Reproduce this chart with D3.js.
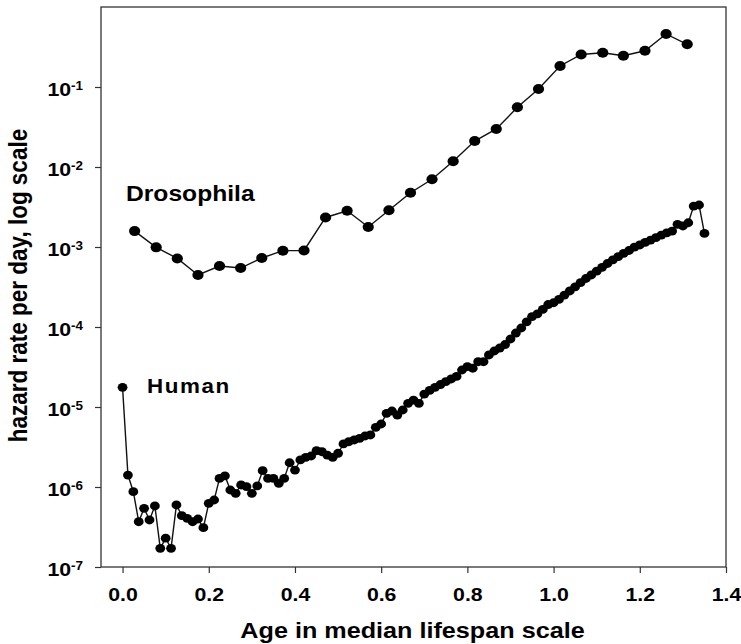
<!DOCTYPE html>
<html>
<head>
<meta charset="utf-8">
<script src="https://cdn.jsdelivr.net/npm/d3@7"></script>
<style>
  body { margin: 0; background: #fff; }
  svg text { font-family: "Liberation Sans", Arial, Helvetica, sans-serif; font-weight: bold; fill: #000; }
</style>
</head>
<body>
<svg id="chart" width="741" height="644"></svg>
<script>
// Drosophila, age in median lifespan units and hazard per day
const flyAge = [0.028, 0.078, 0.127, 0.175, 0.225, 0.274, 0.323, 0.372, 0.421, 0.471,
  0.521, 0.570, 0.618, 0.668, 0.718, 0.767, 0.817, 0.867, 0.916, 0.965,
  1.015, 1.064, 1.114, 1.162, 1.212, 1.261, 1.310];
const flyHazard = [1.58e-3, 9.9e-4, 7.2e-4, 4.47e-4, 5.79e-4, 5.46e-4, 7.29e-4, 9.0e-4, 9.04e-4, 2.34e-3,
  2.84e-3, 1.78e-3, 2.88e-3, 4.77e-3, 7.02e-3, 1.18e-2, 2.11e-2, 2.99e-2, 5.57e-2, 9.44e-2,
  0.183, 0.255, 0.268, 0.246, 0.284, 0.46, 0.342];

// Human, one point per year of age
const humanAge = [0, 0.0125, 0.025, 0.0375, 0.05, 0.0625, 0.075, 0.0875, 0.1, 0.1125,
  0.125, 0.1375, 0.15, 0.1625, 0.175, 0.1875, 0.2, 0.2125, 0.225, 0.2375,
  0.25, 0.2625, 0.275, 0.2875, 0.3, 0.3125, 0.325, 0.3375, 0.35, 0.3625,
  0.375, 0.3875, 0.4, 0.4125, 0.425, 0.4375, 0.45, 0.4625, 0.475, 0.4875,
  0.5, 0.5125, 0.525, 0.5375, 0.55, 0.5625, 0.575, 0.5875, 0.6, 0.6125,
  0.625, 0.6375, 0.65, 0.6625, 0.675, 0.6875, 0.7, 0.7125, 0.725, 0.7375,
  0.75, 0.7625, 0.775, 0.7875, 0.8, 0.8125, 0.825, 0.8375, 0.85, 0.8625,
  0.875, 0.8875, 0.9, 0.9125, 0.925, 0.9375, 0.95, 0.9625, 0.975, 0.9875,
  1, 1.0125, 1.025, 1.0375, 1.05, 1.0625, 1.075, 1.0875, 1.1, 1.1125,
  1.125, 1.1375, 1.15, 1.1625, 1.175, 1.1875, 1.2, 1.2125, 1.225, 1.2375,
  1.25, 1.2625, 1.275, 1.2875, 1.3, 1.3125, 1.325, 1.3375, 1.35];
const humanHazard = [1.76e-5, 1.41e-6, 8.73e-7, 3.68e-7, 5.42e-7, 3.87e-7, 5.79e-7, 1.71e-7, 2.29e-7, 1.71e-7,
  5.96e-7, 4.38e-7, 4.06e-7, 3.68e-7, 3.98e-7, 3.10e-7, 6.25e-7, 6.88e-7, 1.28e-6, 1.38e-6,
  9.17e-7, 8.34e-7, 1.06e-6, 1.01e-6, 8.34e-7, 1.03e-6, 1.60e-6, 1.28e-6, 1.28e-6, 1.11e-6,
  1.28e-6, 2.01e-6, 1.63e-6, 2.18e-6, 2.35e-6, 2.44e-6, 2.84e-6, 2.76e-6, 2.51e-6, 2.35e-6,
  2.64e-6, 3.45e-6, 3.68e-6, 3.87e-6, 4.06e-6, 4.34e-6, 4.47e-6, 5.57e-6, 6.13e-6, 8.34e-6,
  8.91e-6, 7.94e-6, 9.17e-6, 1.11e-5, 1.22e-5, 1.11e-5, 1.45e-5, 1.61e-5, 1.76e-5, 1.91e-5,
  2.07e-5, 2.24e-5, 2.41e-5, 2.90e-5, 3.19e-5, 3.05e-5, 3.68e-5, 3.68e-5, 4.47e-5, 5.01e-5,
  5.46e-5, 6.04e-5, 7.08e-5, 8.41e-5, 9.72e-5, 1.16e-4, 1.35e-4, 1.46e-4, 1.66e-4, 1.91e-4,
  2.01e-4, 2.21e-4, 2.51e-4, 2.82e-4, 3.18e-4, 3.58e-4, 4.04e-4, 4.47e-4, 4.98e-4, 5.57e-4,
  6.22e-4, 6.92e-4, 7.60e-4, 8.34e-4, 9.04e-4, 9.94e-4, 1.06e-3, 1.14e-3, 1.22e-3, 1.31e-3,
  1.41e-3, 1.50e-3, 1.58e-3, 1.92e-3, 1.83e-3, 2.01e-3, 3.25e-3, 3.35e-3, 1.48e-3];

const xTicks = [0, 0.2, 0.4, 0.6, 0.8, 1.0, 1.2, 1.4];
const yTicks = [1e-7, 1e-6, 1e-5, 1e-4, 1e-3, 1e-2, 1e-1];
const yTickExponents = ['-7', '-6', '-5', '-4', '-3', '-2', '-1'];

const svg = d3.select('#chart');
const plot = { left: 101, right: 726, top: 7, bottom: 567 };
// the original scan is a bit wide, so text gets stretched horizontally
const stretch = 'scale(1.12,1)';

const x = d3.scaleLinear().domain([-0.05, 1.4]).range([plot.left, plot.right]);
const y = d3.scaleLog().domain([1e-7, 1]).range([plot.bottom, plot.top]);

// x axis
const xAxis = svg.append('g')
  .attr('transform', `translate(0,${plot.bottom})`)
  .call(d3.axisBottom(x).tickValues(xTicks).tickSize(6).tickSizeOuter(0).tickFormat(d3.format('.1f')));
xAxis.select('.domain').remove();
xAxis.selectAll('.tick line').attr('stroke', '#333').attr('stroke-width', 1.2);
xAxis.selectAll('.tick text')
  .attr('y', 34).attr('dy', null)
  .attr('font-size', 19)
  .attr('transform', stretch);

// y axis, labels are drawn by hand as powers of ten
const yAxis = svg.append('g')
  .attr('transform', `translate(${plot.left},0)`)
  .call(d3.axisLeft(y).tickValues(yTicks).tickSize(6).tickSizeOuter(0).tickFormat(''));
yAxis.select('.domain').remove();
yAxis.selectAll('.tick line').attr('stroke', '#333').attr('stroke-width', 1.2);

const yLabels = svg.append('g').selectAll('text')
  .data(yTicks)
  .enter()
  .append('text')
  .attr('text-anchor', 'end')
  .attr('transform', d => `translate(83,${y(d) + 9}) ${stretch}`);
yLabels.append('tspan').attr('font-size', 19).text('10');
yLabels.append('tspan')
  .attr('font-size', 12)
  .attr('dy', -6)
  .text((d, i) => yTickExponents[i]);

// frame
svg.append('rect')
  .attr('x', plot.left)
  .attr('y', plot.top)
  .attr('width', plot.right - plot.left)
  .attr('height', plot.bottom - plot.top)
  .attr('fill', 'none')
  .attr('stroke', '#333')
  .attr('stroke-width', 1.3);

const line = d3.line()
  .x(d => x(d[0]))
  .y(d => y(d[1]));

function drawSeries(ages, hazards, rx, ry) {
  const pts = d3.zip(ages, hazards);
  const g = svg.append('g');
  g.append('path')
    .datum(pts)
    .attr('d', line)
    .attr('fill', 'none')
    .attr('stroke', '#111')
    .attr('stroke-width', 1.4);
  g.selectAll('ellipse')
    .data(pts)
    .enter()
    .append('ellipse')
    .attr('cx', d => x(d[0]))
    .attr('cy', d => y(d[1]))
    .attr('rx', rx)
    .attr('ry', ry)
    .attr('fill', '#000');
}

drawSeries(flyAge, flyHazard, 5.6, 5.0);
drawSeries(humanAge, humanHazard, 4.9, 4.4);

// series names
svg.append('text')
  .attr('transform', `translate(126,201) ${stretch}`)
  .attr('font-size', 22)
  .text('Drosophila');
svg.append('text')
  .attr('transform', `translate(147,392.5) ${stretch}`)
  .attr('font-size', 20)
  .attr('letter-spacing', 1.4)
  .text('Human');

// axis titles
svg.append('text')
  .attr('transform', `translate(412.5,638) ${stretch}`)
  .attr('text-anchor', 'middle')
  .attr('font-size', 22.5)
  .text('Age in median lifespan scale');
svg.append('text')
  .attr('transform', 'translate(27,285.5) rotate(-90) scale(1,1.12)')
  .attr('text-anchor', 'middle')
  .attr('font-size', 22.5)
  .text('hazard rate per day, log scale');
</script>
</body>
</html>
